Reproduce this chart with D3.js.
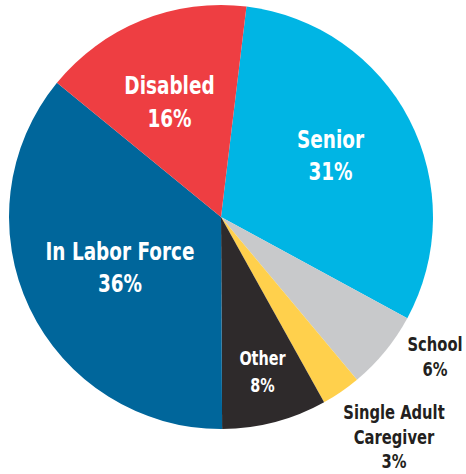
<!DOCTYPE html>
<html>
<head>
<meta charset="utf-8">
<script src="https://cdn.jsdelivr.net/npm/d3@7"></script>
<style>
  html, body { margin: 0; padding: 0; background: #fff; }
  svg text { font-family: "DejaVu Sans Condensed", "DejaVu Sans", sans-serif; font-weight: bold; }
</style>
</head>
<body>
<svg id="chart" width="466" height="474"></svg>
<script>
const categories = ["Senior", "School", "Single Adult Caregiver", "Other", "In Labor Force", "Disabled"];
const labelLines = [["Senior"], ["School"], ["Single Adult", "Caregiver"], ["Other"], ["In Labor Force"], ["Disabled"]];
const values = [31, 6, 3, 8, 36, 16];
const colors = ["#00b5e4", "#c8c9cb", "#ffd04c", "#2e2a2b", "#00669b", "#ee3e42"];

const width = 466, height = 474;
const cx = 221, cy = 217, R = 212;
const startOffset = 6.9 * Math.PI / 180;

const svg = d3.select("#chart");
const g = svg.append("g").attr("transform", `translate(${cx},${cy})`);

const pie = d3.pie().sort(null).value(d => d.value)
  .startAngle(startOffset).endAngle(startOffset + 2 * Math.PI);
const data = categories.map((c, i) => ({ name: c, value: values[i], color: colors[i], lines: labelLines[i] }));
const arcs = pie(data);
const arc = d3.arc().innerRadius(0).outerRadius(R);

g.selectAll("path.slice").data(arcs).enter().append("path")
  .attr("class", "slice")
  .attr("d", arc)
  .attr("fill", d => d.data.color);

// label layout: anchor (block centre) in page pixels
const layout = {
  "Senior": { pos: [330.5, 155.3], size: 25, lh: 32, fill: "#fff" },
  "Disabled": { pos: [169.5, 101.8], size: 25, lh: 33, fill: "#fff" },
  "In Labor Force": { pos: [120, 267.3], size: 25, lh: 32, fill: "#fff" },
  "Other": { pos: [262.5, 371.5], size: 19.5, lh: 27, fill: "#fff" },
  "School": { pos: [435, 356.5], size: 20, lh: 25, fill: "#231f20" },
  "Single Adult Caregiver": { pos: [394, 436.5], size: 20, lh: 24.8, fill: "#231f20" }
};
const squeeze = 0.82;

arcs.forEach(d => {
  const L = layout[d.data.name];
  const lines = d.data.lines.concat([d.data.value + "%"]);
  const n = lines.length;
  const t = svg.append("g")
    .attr("transform", `translate(${L.pos[0]},${L.pos[1]}) scale(${squeeze},1)`)
    .append("text")
    .attr("text-anchor", "middle")
    .attr("fill", L.fill)
    .style("font-size", L.size + "px");
  lines.forEach((ln, i) => {
    t.append("tspan")
      .attr("x", 0)
      .attr("y", (i - (n - 1) / 2) * L.lh + L.size * 0.35)
      .text(ln);
  });
});
</script>
</body>
</html>
